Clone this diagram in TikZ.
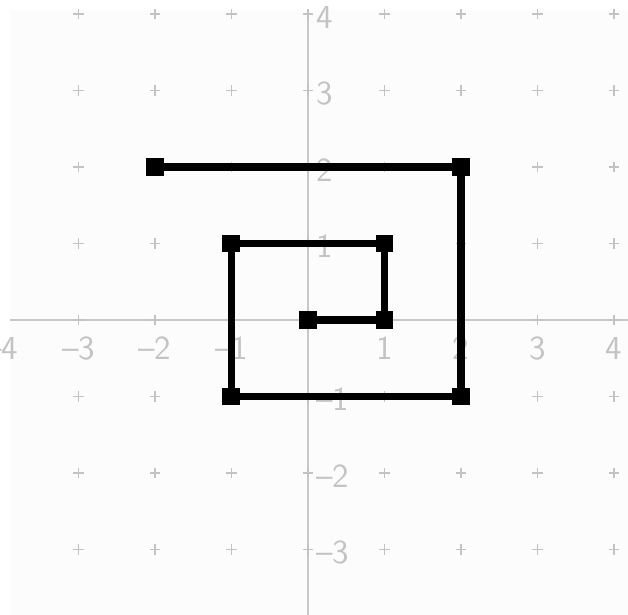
\documentclass[tikz,border=0pt]{standalone}
\definecolor{bgcol}{RGB}{252,252,252}
\definecolor{axcol}{RGB}{200,200,200}
\definecolor{gridcol}{RGB}{195,195,195}
\definecolor{lblcol}{RGB}{195,195,195}
\begin{document}
\begin{tikzpicture}[x=1cm,y=1cm,
  axisline/.style={draw=axcol, line width=0.55pt},
  gridmark/.style={draw=gridcol, line width=0.4pt},
  xlbl/.style={text=lblcol, font=\sffamily\fontsize{12.5}{14}\selectfont, inner sep=0pt, anchor=center},
  ylbl/.style={text=lblcol, font=\sffamily\fontsize{12.5}{14}\selectfont, inner sep=0pt, anchor=west},
  vtx/.style={rectangle, fill=black, minimum size=0.235cm, inner sep=0pt},
  spiral/.style={draw=black, line width=0.102cm, line join=miter}]
\useasboundingbox (-4.026,-3.856) rectangle (4.183,4.183);
\clip (-4.026,-3.856) rectangle (4.183,4.183);
\fill[white] (-4.026,-3.856) rectangle (4.183,4.183);
\fill[bgcol] (-3.895,-3.856) rectangle (4.183,4.05);
% axes
\draw[axisline] (-3.895,0) -- (4.183,0);
\draw[axisline] (0,4.05) -- (0,-3.856);
% grid crosses
\foreach \x in {-3,...,4} {
  \foreach \y in {-4,...,4} {
    \draw[gridmark] (\x-0.07,\y) -- (\x+0.07,\y) (\x,\y-0.07) -- (\x,\y+0.07);
  }
}
% axis labels
\foreach \x/\t in {-4/\textendash4,-3/\textendash3,-2/\textendash2,-1/\textendash1,1/1,2/2,3/3,4/4} {
  \node[xlbl] (xl\x) at (\x,-0.37) {\t};
}
\foreach \y/\t in {4/4,3/3,2/2,1/1,-1/\textendash1,-2/\textendash2,-3/\textendash3,-4/\textendash4} {
  \node[ylbl] (yl\y) at (0.1,\y-0.04) {\t};
}
% spiral
\node[vtx] (p0) at (-2,2) {};
\node[vtx] (p1) at (2,2) {};
\node[vtx] (p2) at (2,-1) {};
\node[vtx] (p3) at (-1,-1) {};
\node[vtx] (p4) at (-1,1) {};
\node[vtx] (p5) at (1,1) {};
\node[vtx] (p6) at (1,0) {};
\node[vtx] (p7) at (0,0) {};
\draw[spiral] (p0.center) -- (p1.center) -- (p2.center) -- (p3.center) -- (p4.center) -- (p5.center) -- (p6.center) -- (p7.center);
\end{tikzpicture}
\end{document}
